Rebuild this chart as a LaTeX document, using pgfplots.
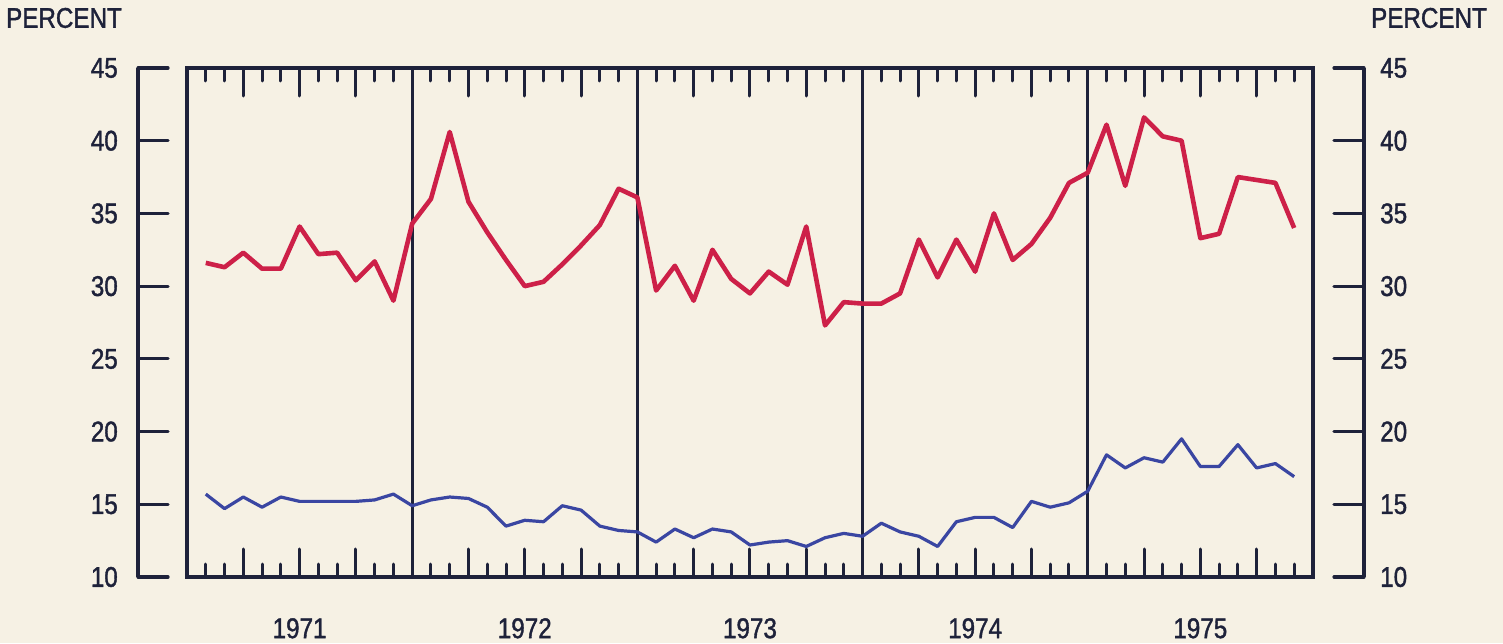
\documentclass[border=0pt]{standalone}
\usepackage{pgfplots}
\pgfplotsset{compat=1.18}
\usepackage{pgfplotstable}
\usepackage{fontspec}
\newfontfamily\plotfont[FakeStretch=0.85, FakeBold=1.3]{Liberation Sans}
\newcommand\bigfont{\plotfont\fontsize{28.5}{30}\selectfont}

\definecolor{paper}{RGB}{246,241,228}
\definecolor{frame}{RGB}{30,34,58}
\definecolor{redline}{RGB}{205,32,72}
\definecolor{blueline}{RGB}{58,70,162}

% monthly values, x = month number from Jan 1971
\pgfplotstableread{
m v
1 31.6
2 31.3
3 32.3
4 31.2
5 31.2
6 34.1
7 32.2
8 32.3
9 30.4
10 31.7
11 29.0
12 34.3
13 36.0
14 40.6
15 35.8
16 33.7
17 31.8
18 30.0
19 30.3
20 31.5
21 32.8
22 34.2
23 36.7
24 36.1
25 29.7
26 31.4
27 29.0
28 32.5
29 30.5
30 29.5
31 31.0
32 30.1
33 34.1
34 27.3
35 28.9
36 28.8
37 28.8
38 29.5
39 33.2
40 30.6
41 33.2
42 31.0
43 35.0
44 31.8
45 32.9
46 34.7
47 37.1
48 37.8
49 41.1
50 36.9
51 41.6
52 40.3
53 40.0
54 33.3
55 33.6
56 37.5
57 37.3
58 37.1
59 34.0
}\redtab

\pgfplotstableread{
m v
1 15.7
2 14.7
3 15.5
4 14.8
5 15.5
6 15.2
7 15.2
8 15.2
9 15.2
10 15.3
11 15.7
12 14.9
13 15.3
14 15.5
15 15.4
16 14.8
17 13.5
18 13.9
19 13.8
20 14.9
21 14.6
22 13.5
23 13.2
24 13.1
25 12.4
26 13.3
27 12.7
28 13.3
29 13.1
30 12.2
31 12.4
32 12.5
33 12.1
34 12.7
35 13.0
36 12.8
37 13.7
38 13.1
39 12.8
40 12.1
41 13.8
42 14.1
43 14.1
44 13.4
45 15.2
46 14.8
47 15.1
48 15.9
49 18.4
50 17.5
51 18.2
52 17.9
53 19.5
54 17.6
55 17.6
56 19.1
57 17.5
58 17.8
59 16.9
}\bluetab

\begin{document}
\begin{tikzpicture}[x=1pt,y=1pt]
\fill[paper] (-138,-66) rectangle (1365,577);

% outer scale, left and right
\begin{axis}[
    at={(0,0)}, anchor=south west,
    scale only axis, width=1226pt, height=509pt,
    xmin=0, xmax=1, ymin=10, ymax=45,
    axis x line=none, axis y line=box,
    y axis line style={frame, line width=3.2pt},
    ytick={10,15,...,45},
    tick align=inside,
    major tick length=30pt,
    tick style={frame, line width=3.2pt, line cap=round},
    /pgf/number format/assume math mode=true,
    yticklabel style={font=\bigfont, text=frame, inner sep=0pt, xshift=-20pt},
]
\end{axis}
\begin{axis}[
    at={(0,0)}, anchor=south west,
    scale only axis, width=1226pt, height=509pt,
    xmin=0, xmax=1, ymin=10, ymax=45,
    axis x line=none, axis y line=right,
    y axis line style={draw=none},
    ytick={10,15,...,45},
    major tick length=0pt,
    /pgf/number format/assume math mode=true,
    yticklabel style={font=\bigfont, text=frame, inner sep=0pt, xshift=16pt},
]
\end{axis}

% main panel
\begin{axis}[
    at={(49pt,0)}, anchor=south west,
    scale only axis, width=1126pt, height=509pt,
    xmin=0, xmax=60, ymin=10, ymax=45,
    axis line style={frame, line width=3.2pt},
    ytick=\empty,
    xtick={0,3,...,60},
    minor x tick num=2,
    xticklabels={,,1971,,,,1972,,,,1973,,,,1974,,,,1975,,},
    xticklabel style={font=\bigfont, text=frame, inner sep=0pt, anchor=north, yshift=-41pt},
    tick align=inside,
    major tick length=28pt,
    minor tick length=13pt,
    tick style={frame, line width=3pt, line cap=round},
    extra x ticks={12,24,36,48},
    extra x tick labels={},
    extra x tick style={grid=major},
    major grid style={frame, line width=3pt},
]
\addplot[blueline, line width=3.2pt, line join=round] table[x=m, y=v] {\bluetab};
\addplot[redline, line width=4.6pt, line join=round] table[x=m, y=v] {\redtab};
\end{axis}

\node[font=\bigfont, text=frame] at (-74,559) {PERCENT};
\node[font=\bigfont, text=frame] at (1291,559) {PERCENT};
\end{tikzpicture}
\end{document}
